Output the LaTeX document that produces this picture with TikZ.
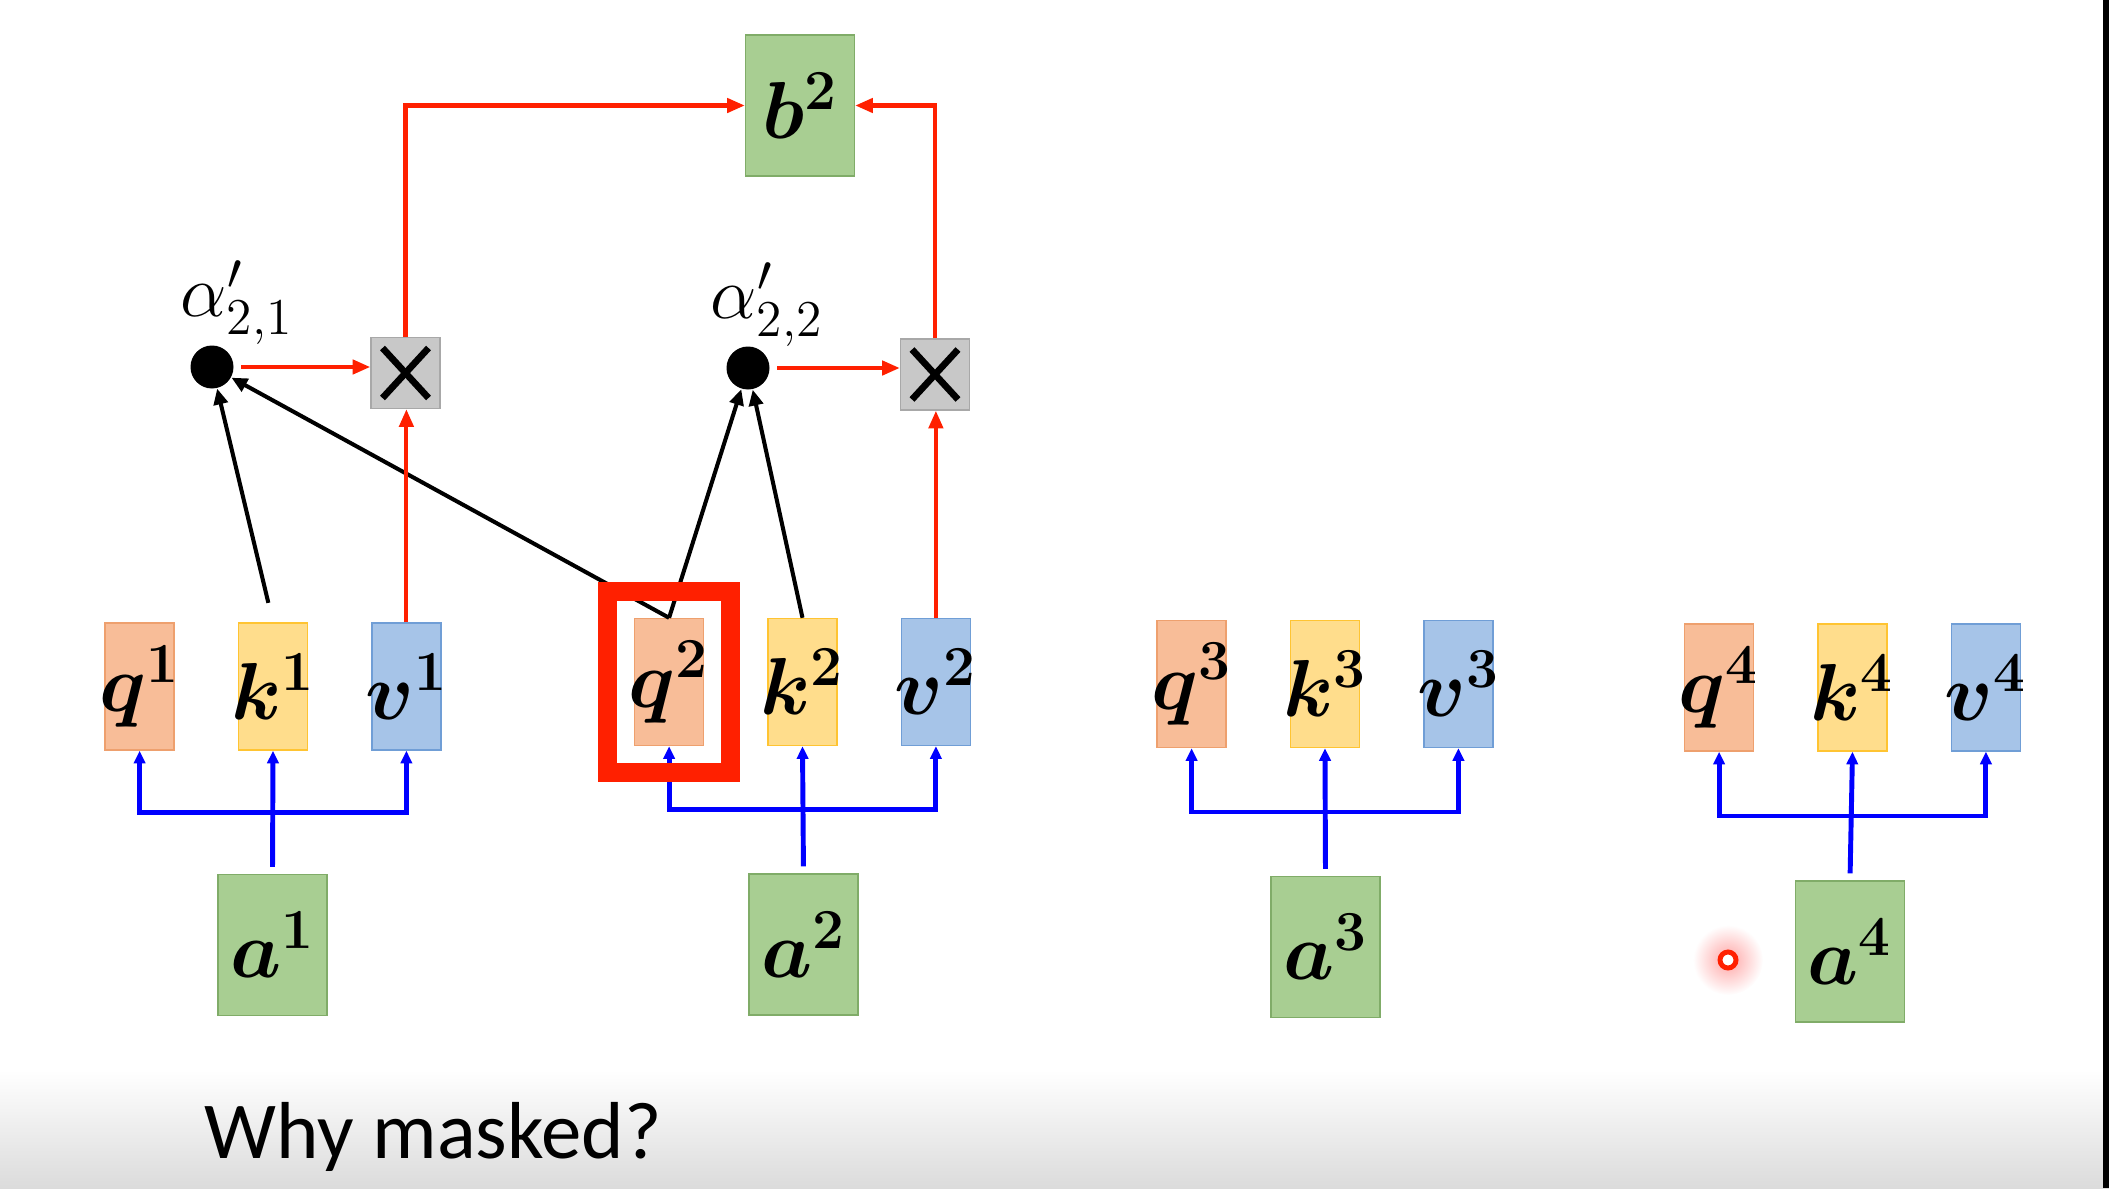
\RequirePackage{fix-cm}
\documentclass[tikz,border=0pt]{standalone}
\usepackage{amsmath,amssymb}
\usepackage{fontspec}
\newfontfamily\slidefont{Carlito}
\usepackage{xcolor}
\usetikzlibrary{positioning,calc,arrows.meta,fit}

\definecolor{qfill}{RGB}{248,189,152}
\definecolor{qdraw}{RGB}{238,160,110}
\definecolor{kfill}{RGB}{255,221,140}
\definecolor{kdraw}{RGB}{255,196,50}
\definecolor{vfill}{RGB}{166,196,232}
\definecolor{vdraw}{RGB}{112,158,214}
\definecolor{gfill}{RGB}{168,206,146}
\definecolor{gdraw}{RGB}{128,172,104}
\definecolor{mfill}{RGB}{200,200,200}
\definecolor{mdraw}{RGB}{168,168,168}
\definecolor{attnred}{RGB}{255,32,0}
\definecolor{feedblue}{RGB}{0,0,255}

% vector symbol that does not widen its box
\newcommand{\vsym}[1]{\makebox[0pt]{$\boldsymbol{#1}$}}

\begin{document}
\begin{tikzpicture}[
    every node/.style={font=\fontsize{23}{28}\selectfont, inner sep=0pt},
    vec/.style={minimum width=0.69cm, minimum height=1.27cm},
    qvec/.style={vec, fill=qfill, draw=qdraw},
    kvec/.style={vec, fill=kfill, draw=kdraw},
    vvec/.style={vec, fill=vfill, draw=vdraw},
    token/.style={minimum width=1.09cm, minimum height=1.41cm, fill=gfill, draw=gdraw},
    mulbox/.style={fill=mfill, draw=mdraw, minimum width=0.69cm, minimum height=0.71cm,
        path picture={
            \draw[black, line width=1.9pt] ([shift={(-0.23,-0.25)}]path picture bounding box.center)
                -- ([shift={(0.23,0.25)}]path picture bounding box.center);
            \draw[black, line width=1.9pt] ([shift={(-0.23,0.25)}]path picture bounding box.center)
                -- ([shift={(0.23,-0.25)}]path picture bounding box.center);}},
    weight/.style={circle, fill=black, minimum size=0.43cm},
    wlabel/.style={font=\fontsize{21}{25}\selectfont},
    feed/.style={feedblue, line width=1.4pt, -{Triangle[length=3.6pt,width=3.2pt]}},
    score/.style={black, line width=1.15pt, -{Triangle[length=4.5pt,width=4pt]}},
    mix/.style={attnred, line width=1.15pt, -{Triangle[length=5pt,width=4pt]}},
    highlight/.style={draw=attnred, line width=0.19cm, inner sep=0.26cm},
]
\useasboundingbox (0,0) rectangle (21.09,11.88);

% slide background: grey fade at the bottom, dark strip on the right
\shade[top color=white, bottom color=gray!28] (0,0) rectangle (21.09,1.18);
\fill[black] (21.03,0) rectangle (21.09,11.88);

% =====================================================================
% Inputs a^i and their q, k, v vectors
% =====================================================================
\foreach \i/\kx/\ky/\ax/\ay in {1/2.73/5.015/2.725/2.43, 2/8.025/5.06/8.035/2.435,
                                3/13.25/5.04/13.255/2.41, 4/18.525/5.005/18.50/2.365} {
    \node[kvec] (k\i) at (\kx,\ky) {\vsym{k^{\i}}};
    \node[qvec, left=0.63cm of k\i] (q\i) {\vsym{q^{\i}}};
    \node[vvec, right=0.63cm of k\i] (v\i) {\vsym{v^{\i}}};
    \node[token] (a\i) at (\ax,\ay) {$\boldsymbol{a^{\i}}$};
    \coordinate (bus\i) at ($(k\i.south)!0.5!(a\i.north)$);
    % fan-out from a^i to q, k, v
    \draw[feed, shorten <=0.07cm] (a\i.north) -- (k\i.south);
    \draw[feed, {Triangle[length=3.6pt,width=3.2pt]}-{Triangle[length=3.6pt,width=3.2pt]}]
        (q\i.south) -- (q\i.south |- bus\i) -- (v\i.south |- bus\i) -- (v\i.south);
}

% =====================================================================
% Masked attention for b^2: only positions 1 and 2
% =====================================================================
\node[token] (b2) at (8.00,10.825) {$\boldsymbol{b^{2}}$};
\node[weight] (w21) at (2.12,8.21) {};
\node[weight] (w22) at (7.48,8.20) {};
\node[wlabel] (l21) at (2.37,8.85) {$\alpha'_{2,1}$};
\node[wlabel] (l22) at (7.67,8.83) {$\alpha'_{2,2}$};
\node[mulbox] (m1) at (4.055,8.15) {};
\node[mulbox] (m2) at (9.35,8.135) {};

% query-key scores
\draw[score, shorten <=0.2cm] (k1.north) -- (w21);
\draw[score] (q2.north) -- (w21);
\draw[score] (q2.north) -- (w22);
\draw[score] (k2.north) -- (w22);

% weights times values, summed into b^2
\draw[mix, shorten <=0.07cm] (w21.east) -- (w21.east -| m1.west);
\draw[mix, shorten <=0.07cm] (w22.east) -- (w22.east -| m2.west);
\draw[mix] (v1.north) -- (v1.north |- m1.south);
\draw[mix] (v2.north) -- (v2.north |- m2.south);
\draw[mix] (m1.north) |- (b2.west);
\draw[mix] (m2.north) |- (b2.east);

% current query
\node[highlight, fit=(q2)] (mask) {};

% laser pointer
\shade[inner color=red!35, outer color=white] (17.28,2.28) circle (0.35);
\draw[attnred, fill=white, line width=1.4pt] (17.28,2.28) circle (0.08);

\node[font=\slidefont\fontsize{23}{28}\selectfont, anchor=base west] (why) at (2.04,0.30) {Why masked?};

\end{tikzpicture}
\end{document}
